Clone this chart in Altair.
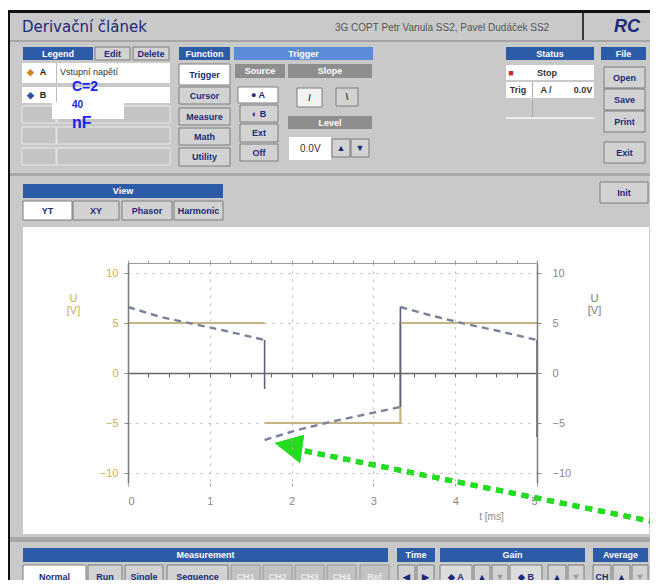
import altair as alt
import pandas as pd

# ---------------- chart values ----------------
# trace A : input square wave  [t in ms, U in V], drawn as two visible pieces
a_t = [0.0, 1.67, 1.67, 3.33, 3.33, 5.0]
a_u = [5.0, 5.0, -5.0, -5.0, 5.0, 5.0]
a_seg = [1, 1, 2, 2, 2, 2]

# trace B : output of the RC differentiator (dashed), three segments
b_t = [0.0, 0.4, 0.8, 1.2, 1.67,
       1.67, 2.07, 2.47, 2.87, 3.33,
       3.33, 3.73, 4.13, 4.53, 5.0]
b_u = [6.6, 5.6, 4.9, 4.2, 3.3,
       -6.7, -5.7, -4.9, -4.2, -3.4,
       6.6, 5.7, 4.9, 4.2, 3.3]
b_seg = [1, 1, 1, 1, 1, 2, 2, 2, 2, 2, 3, 3, 3, 3, 3]

# vertical jumps of trace B as drawn on screen
edge_t = [1.67, 3.33, 5.0]
edge_from = [3.3, -3.4, 3.3]
edge_to = [-1.6, 6.6, -6.4]

x_ticks = [0, 1, 2, 3, 4, 5]
y_ticks = [-10, -5, 0, 5, 10]
minor_x_ticks = [0, 0.25, 0.5, 0.75, 1, 1.25, 1.5, 1.75, 2, 2.25, 2.5, 2.75,
                 3, 3.25, 3.5, 3.75, 4, 4.25, 4.5, 4.75, 5]

df_a = pd.DataFrame({"t": a_t, "u": a_u, "seg": a_seg, "i": list(range(len(a_t)))})
df_b = pd.DataFrame({"t": b_t, "u": b_u, "seg": b_seg, "i": list(range(len(b_t)))})
df_e = pd.DataFrame({"t": edge_t, "u0": edge_from, "u1": edge_to})

# ---------------- layout of the surrounding application window ----------------
OX, OY = 128, 263          # page position of the plot origin
FONT = "Liberation Sans"
BLUE = "#2c5ba8"
LBLUE = "#5b8bd6"
BTN = "#d2d2d2"
GRAYH = "#8e8e8e"
WIN = "#c9c9c9"
NAVY = "#1b2b78"

rects, texts = [], []


def R(x1, y1, x2, y2, fill, stroke="transparent"):
    rects.append(dict(x=x1 - OX, x2=x2 - OX, y=y1 - OY, y2=y2 - OY, fill=fill, stroke=stroke))


def T(x, y, s, color=NAVY, size=9, style="bc"):
    texts.append(dict(x=x - OX, y=y - OY, text=s, color=color, size=size, style=style))


def B(x1, y1, x2, y2, s, fill=BTN, color=NAVY, stroke="#7c7c7c"):
    R(x1, y1, x2, y2, fill, stroke)
    T((x1 + x2) / 2, (y1 + y2) / 2, s, color)


def H(x1, y1, x2, y2, s, fill=BLUE):
    R(x1, y1, x2, y2, fill)
    T((x1 + x2) / 2, (y1 + y2) / 2, s, "#ffffff")


# window
R(6, 10, 650, 13, "#111111")
R(6, 10, 10, 580, "#111111")
R(10, 13, 650, 580, WIN)
R(10, 40, 650, 42, "#a4a4a4")
R(582, 13, 584, 40, "#3a3a3a")
T(22, 27, "Derivační článek", NAVY, 15, "tl")
T(335, 28, "3G COPT Petr Vanula SS2, Pavel Dudáček SS2", "#555555", 10, "nl")
T(614, 27, "RC", NAVY, 18, "ri")

# legend
H(23, 47, 93, 60, "Legend")
B(95, 47, 130, 60, "Edit")
B(133, 47, 169, 60, "Delete")
R(22, 63, 170, 83, "#ffffff")
R(56, 63, 57, 83, "#bbbbbb")
T(30, 72, "◆", "#d08a20", 9)
T(43, 72, "A", "#222222", 9)
T(60, 72, "Vstupní napětí", "#333333", 9, "nl")
R(22, 87, 170, 103, "#ffffff")
R(56, 87, 57, 103, "#bbbbbb")
T(30, 95, "◆", "#3050a0", 9)
T(43, 95, "B", "#222222", 9)
for ry in (106, 127, 148):
    R(22, ry, 56, ry + 17, "#c4c4c4", "#e8e8e8")
    R(57, ry, 170, ry + 17, "#c4c4c4", "#e8e8e8")
R(52, 102, 124, 119, "#ffffff")

# function
H(179, 47, 230, 60, "Function")
B(179, 64, 230, 85, "Trigger", "#ffffff")
B(179, 87, 230, 104, "Cursor")
B(179, 108, 230, 125, "Measure")
B(179, 128, 230, 145, "Math")
B(179, 148, 230, 166, "Utility")

# trigger
H(234, 47, 373, 60, "Trigger", LBLUE)
H(235, 64, 285, 78, "Source", GRAYH)
H(288, 64, 372, 78, "Slope", GRAYH)
B(238, 87, 278, 103, "● A", "#ffffff")
B(240, 105, 278, 122, "◐ B")
B(240, 124, 278, 142, "Ext")
B(240, 144, 278, 161, "Off")
B(297, 88, 322, 107, "/", "#f2f2f2")
B(336, 88, 358, 106, "\\")
H(288, 116, 372, 129, "Level", GRAYH)
R(289, 137, 331, 160, "#ffffff")
T(300, 149, "0.0V", "#333333", 10, "nl")
B(332, 139, 350, 157, "▲")
B(351, 139, 369, 157, "▼")

# status
H(506, 47, 594, 60, "Status")
R(506, 65, 594, 80, "#ffffff")
T(511, 72.5, "■", "#c03030", 9)
T(547, 72.5, "Stop", "#333333", 9)
R(506, 82, 594, 98, "#ffffff")
R(532, 82, 533, 98, "#aaaaaa")
T(518, 90, "Trig", "#333333", 9)
T(546, 90, "A /", "#333333", 9)
T(583, 90, "0.0V", "#333333", 9)
R(532, 100, 533, 117, "#aaaaaa")
R(506, 117, 594, 119, "#eeeeee")

# file
H(601, 47, 646, 60, "File")
B(604, 67, 645, 88, "Open")
B(604, 89, 645, 110, "Save")
B(604, 111, 645, 132, "Print")
B(604, 142, 645, 163, "Exit")

R(10, 173, 650, 176, "#a8a8a8")

# view
H(23, 184, 223, 198, "View")
B(23, 201, 72, 220, "YT", "#ffffff")
B(73, 201, 119, 220, "XY")
B(122, 201, 172, 220, "Phasor")
B(174, 201, 223, 220, "Harmonic")
B(600, 182, 648, 203, "Init")

# plot panel
R(23, 227, 649, 534, "#ffffff")
R(10, 537, 650, 542, "#a8a8a8")

# bottom bars
H(23, 548, 388, 562, "Measurement")
H(397, 548, 435, 562, "Time")
H(440, 548, 585, 562, "Gain")
H(593, 548, 648, 562, "Average")
B(23, 565, 86, 588, "Normal", "#ffffff")
B(88, 565, 122, 588, "Run")
B(125, 565, 163, 588, "Single")
B(167, 565, 228, 588, "Sequence")
for bx, lab in [(231, "CH1"), (263, "CH2"), (295, "CH3"), (327, "CH4"), (360, "Ref")]:
    B(bx, 565, bx + 29, 588, lab, "#c2c2c2", "#ececec", "#9a9a9a")
B(398, 565, 415, 588, "◀")
B(417, 565, 434, 588, "▶")
B(440, 565, 472, 588, "◆ A", "#dcdcdc")
B(474, 565, 490, 588, "▲")
B(492, 565, 508, 588, "▼", BTN, "#999999")
B(510, 565, 542, 588, "◆ B", "#dcdcdc")
B(548, 565, 566, 588, "▲")
B(568, 565, 584, 588, "▼", BTN, "#999999")
B(593, 565, 611, 588, "CH")
B(613, 565, 630, 588, "▲")
B(632, 565, 648, 588, "▼", BTN, "#999999")

df_r = pd.DataFrame(rects)
df_t = pd.DataFrame(texts)

px = lambda f: alt.X(f, type="quantitative", scale=None, axis=None)
py = lambda f: alt.Y(f, type="quantitative", scale=None, axis=None)

ui_rects = alt.Chart(df_r).mark_rect(strokeWidth=1).encode(
    x=px("x"), x2="x2:Q", y=py("y"), y2="y2:Q",
    fill=alt.Fill("fill:N", scale=None, legend=None),
    stroke=alt.Stroke("stroke:N", scale=None, legend=None),
)


def text_layer(style, **kw):
    kw.setdefault("font", FONT)
    return alt.Chart(df_t[df_t["style"] == style]).mark_text(baseline="middle", **kw).encode(
        x=px("x"), y=py("y"), text="text:N",
        color=alt.Color("color:N", scale=None, legend=None),
        size=alt.Size("size:Q", scale=None, legend=None),
    )


ui_txt_bc = text_layer("bc", align="center", fontWeight="bold")
ui_txt_nl = text_layer("nl", align="left")
ui_txt_tl = text_layer("tl", align="left", font="DejaVu Sans")
ui_txt_ri = text_layer("ri", align="left", fontWeight="bold", fontStyle="italic")

# ---------------- plot ----------------
xs = alt.Scale(domain=[0, 5], nice=False, zero=False)
ys = alt.Scale(domain=[-11, 11], nice=False, zero=False)
GRID = dict(grid=True, gridColor="#b5b5b5", gridDash=[2, 6], gridWidth=1)

sq = alt.Chart(df_a).mark_line(color="#cbb47c", strokeWidth=2.2).encode(
    x=alt.X("t:Q", scale=xs, axis=alt.Axis(
        orient="bottom", values=x_ticks, title="t [ms]", domain=False,
        ticks=True, tickSize=3, tickColor="#9a9a9a", labelColor="#8a8a8a",
        labelFont=FONT, labelFontSize=11, labelPadding=9,
        titleFont=FONT, titleFontSize=10, titleFontWeight="normal", titleColor="#8a8a8a",
        titleX=363, titleY=28, titleAlign="center", zindex=1, **GRID)),
    y=alt.Y("u:Q", scale=ys, axis=alt.Axis(
        orient="left", values=y_ticks, title=["U", "[V]"], domain=True,
        domainColor="#7a7a7a", domainWidth=1.5, ticks=True, tickSize=4, tickColor="#8a8a8a",
        labelColor="#ccae50", labelFont=FONT, labelFontSize=11, labelPadding=6,
        titleFont=FONT, titleFontSize=11, titleFontWeight="normal", titleColor="#ccae50",
        titleAngle=0, titleX=-55, titleY=35, titleAlign="center", titleBaseline="middle",
        titleLineHeight=12, zindex=1, **GRID)),
    detail="seg:N",
    order="i:Q",
)

dashed = alt.Chart(df_b).mark_line(color="#7a8099", strokeWidth=2.4, strokeDash=[7, 5]).encode(
    x=alt.X("t:Q", scale=xs, axis=alt.Axis(
        orient="top", values=minor_x_ticks, title=None, labels=False, grid=False,
        domain=True, domainColor="#9a9a9a", ticks=True, tickSize=3, tickColor="#9a9a9a", zindex=1)),
    y=alt.Y("u:Q", scale=ys, axis=alt.Axis(
        orient="right", values=y_ticks, title=["U", "[V]"], grid=False, domain=True,
        domainColor="#7a7a7a", domainWidth=1.5, ticks=True, tickSize=4, tickColor="#8a8a8a",
        labelColor="#8a8a8a", labelFont=FONT, labelFontSize=11, labelPadding=11,
        titleFont=FONT, titleFontSize=11, titleFontWeight="normal", titleColor="#7a7a7a",
        titleAngle=0, titleX=57, titleY=35, titleAlign="center", titleBaseline="middle",
        titleLineHeight=12, zindex=1)),
    detail="seg:N",
    order="i:Q",
)

edges = alt.Chart(df_e).mark_rule(color="#5d6280", strokeWidth=1.6).encode(
    x=alt.X("t:Q", scale=xs, axis=alt.Axis(
        orient="bottom", offset=-110, values=minor_x_ticks, title=None, labels=False,
        grid=False, domain=True, domainColor="#666666", domainWidth=1.5,
        ticks=True, tickSize=4, tickColor="#666666", zindex=1)),
    y=alt.Y("u0:Q", scale=ys, axis=None),
    y2="u1:Q",
)

arrow = alt.Chart(df_e).mark_rule(color="#22dd22", strokeWidth=5, strokeDash=[7, 6]).encode(
    x=alt.value(177), y=alt.value(188), x2=alt.value(522), y2=alt.value(258),
)
arrow_head = alt.Chart(df_e).mark_point(
    shape="M -1 -0.22 L 0.61 -0.67 L 0.39 0.89 Z", filled=True, color="#22dd22",
    size=1296, opacity=1, strokeWidth=0,
).encode(x=alt.value(165), y=alt.value(184))

note = pd.DataFrame({"x": [72 - OX, 72 - OX, 72 - OX], "y": [87 - OY, 105 - OY, 123 - OY],
                     "text": ["C=2", "40", "nF"], "size": [14, 10, 16]})
note_txt = alt.Chart(note).mark_text(align="left", baseline="middle", font=FONT,
                                     fontWeight="bold", color="#1a22ee").encode(
    x=px("x"), y=py("y"), text="text:N", size=alt.Size("size:Q", scale=None, legend=None),
)

chart = alt.layer(
    ui_rects, ui_txt_bc, ui_txt_nl, ui_txt_tl, ui_txt_ri,
    sq, dashed, edges, arrow, arrow_head, note_txt,
).resolve_scale(x="independent", y="independent").properties(
    width=409, height=220,
    padding={"left": 120, "top": 255, "right": 113, "bottom": 97},
    autosize=alt.AutoSizeParams(type="none"),
    background="#ffffff",
).configure_view(stroke=None)

chart.save("out.html", embed_options={"renderer": "svg", "actions": False})
